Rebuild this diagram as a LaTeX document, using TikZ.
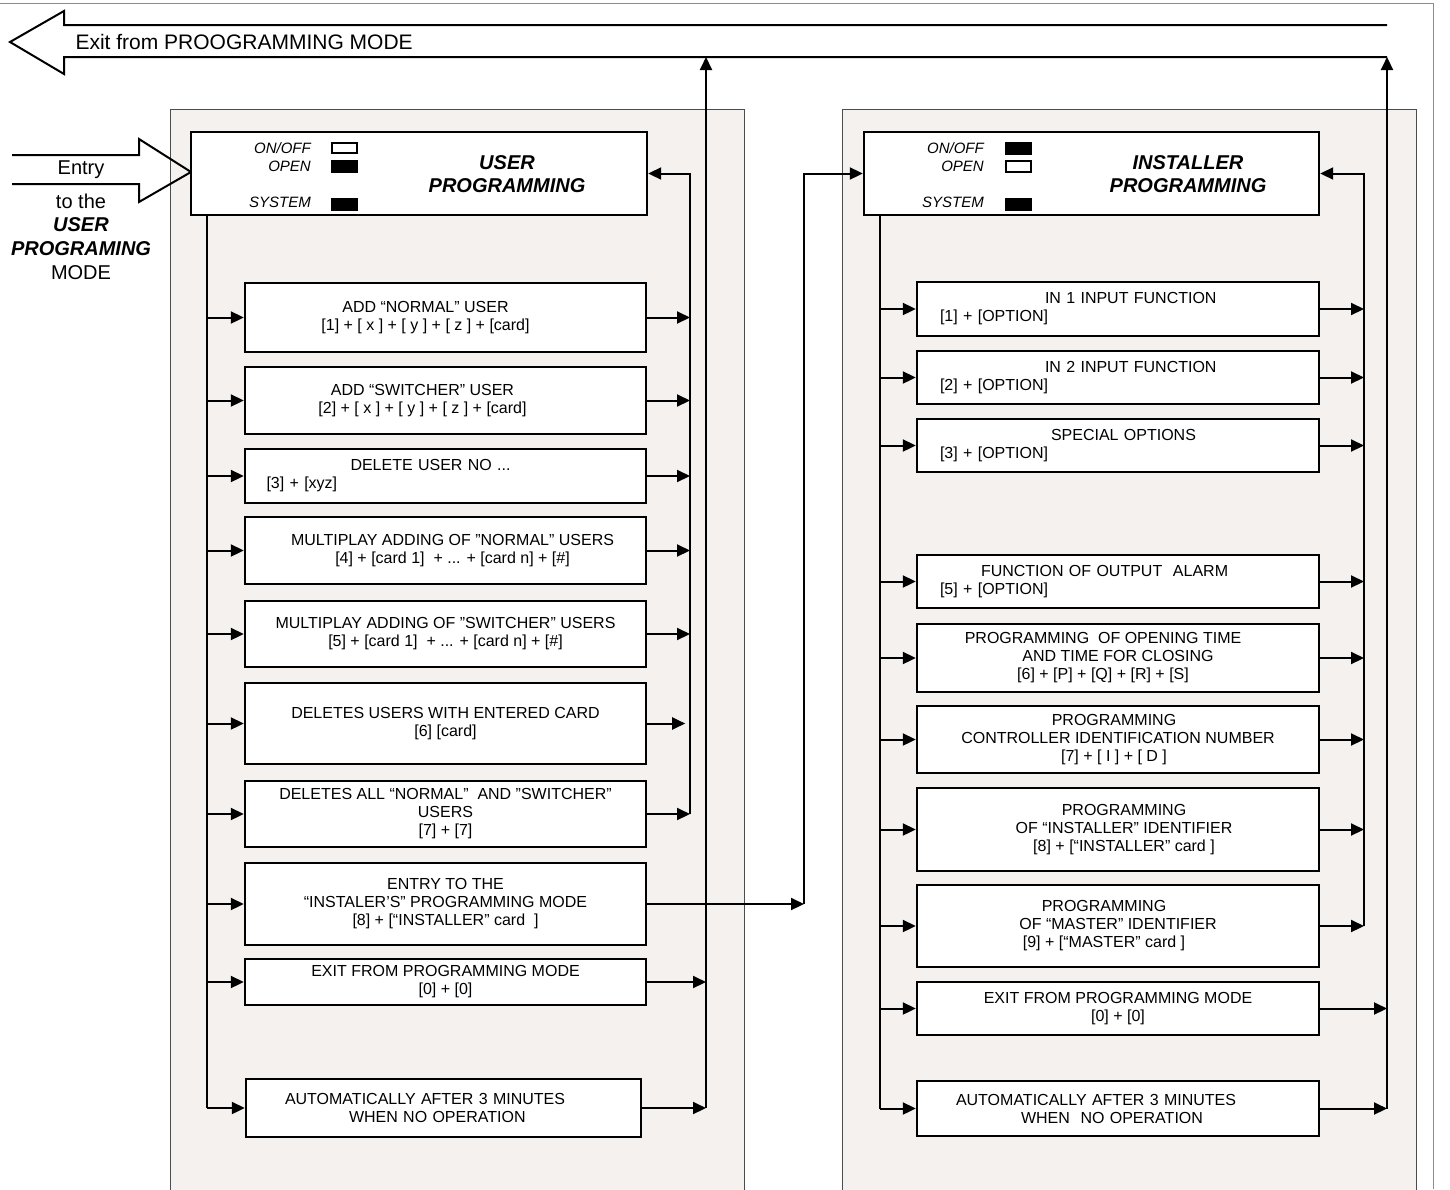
\documentclass[tikz,border=0pt]{standalone}
\usepackage{fontspec}
\setmainfont{Liberation Sans}
\usetikzlibrary{arrows.meta}
\definecolor{panelbg}{HTML}{F4F1EF}

\begin{document}
\begin{tikzpicture}[x=1pt, y=-1pt,
    conn/.style={line width=2pt, -{Triangle[length=13pt,width=12pt]}},
    wire/.style={line width=2pt},
    panel/.style={draw=black!70, line width=0.8pt, fill=panelbg},
    fnbox/.style={draw, line width=2.4pt, fill=white, align=center, inner sep=2pt,
        font=\fontsize{16}{18}\selectfont},
    lbox/.style={fnbox, minimum width=401pt},
    rbox/.style={fnbox, minimum width=402pt},
    headbox/.style={draw, line width=2.4pt, fill=white, minimum width=456pt, minimum height=83pt},
    lamp/.style={draw, line width=1.2pt},
    tag/.style={anchor=east, inner sep=0pt, font=\fontsize{15}{17}\selectfont\itshape},
    title/.style={align=center, font=\fontsize{20}{23}\selectfont\bfseries\itshape},
    bigarrow/.style={line width=2pt, line join=miter}]

    \useasboundingbox (0,0) rectangle (1450,1189);
    \clip (0,0) rectangle (1450,1189);

    \draw[black!45, line width=1pt] (0,3) -- (1433,3) -- (1433,1189);

    \draw[panel] (170,109) rectangle (744,1200);
    \draw[panel] (842,109) rectangle (1416,1200);

    \draw[bigarrow] (1387,25) -- (64,25) -- (64,11) -- (10,42) -- (64,74) -- (64,57) -- (1387,57);
    \node[anchor=west, font=\fontsize{21}{24}\selectfont] (exittxt) at (72,42) {Exit from PROOGRAMMING MODE};

    \draw[bigarrow] (12,155) -- (139,155) -- (139,139) -- (191,172) -- (139,202) -- (139,184) -- (12,184);
    \node[font=\fontsize{20}{23}\selectfont] (entrytxt) at (81,170) {Entry};
    \node[align=center, font=\fontsize{20}{23.7}\selectfont] (modetxt) at (81,236.5)
        {to the\\\textbf{\textit{USER}}\\\textbf{\textit{PROGRAMING}}\\MODE};

    \node[headbox] (ubox) at (419,173.5) {};
    \node[tag] (uonoff) at (311,148) {ON/OFF};
    \node[tag] (uopen) at (311,166) {OPEN};
    \node[tag] (usys) at (311,202) {SYSTEM};
    \draw[lamp] (332,143) rectangle (357,153);
    \draw[lamp, fill=black] (332,161) rectangle (357,172);
    \draw[lamp, fill=black] (332,199) rectangle (357,210);
    \node[title] (utitle) at (507,174.5) {USER\\PROGRAMMING};

    \node[headbox, minimum width=455pt] (ibox) at (1091.5,173.5) {};
    \node[tag] (ionoff) at (984,148) {ON/OFF};
    \node[tag] (iopen) at (984,166) {OPEN};
    \node[tag] (isys) at (984,202) {SYSTEM};
    \draw[lamp, fill=black] (1006,143) rectangle (1031,154);
    \draw[lamp] (1006,161) rectangle (1031,172);
    \draw[lamp, fill=black] (1006,199) rectangle (1031,210);
    \node[title] (ititle) at (1188,174.5) {INSTALLER\\PROGRAMMING};

    \node[lbox, minimum height=69pt] (u1) at (445.5,317.5)
        {ADD “NORMAL” USER\hspace*{40pt}\\{}[1] + [ x ] + [ y ] + [ z ] + [card]\hspace*{40pt}};
    \node[lbox, minimum height=67pt] (u2) at (445.5,400.5)
        {ADD “SWITCHER” USER\hspace*{46pt}\\{}[2] + [ x ] + [ y ] + [ z ] + [card]\hspace*{46pt}};
    \node[lbox, minimum height=54pt, align=left, text width=358pt] (u3) at (445.5,476)
        {\hspace*{84pt}DELETE USER NO ...\\{}[3] + [xyz]};
    \node[lbox, minimum height=67pt] (u4) at (445.5,550.5)
        {\hspace*{14pt}MULTIPLAY ADDING OF ”NORMAL” USERS\\\hspace*{14pt}[4] + [card 1]\ \ + ... + [card n] + [\#]};
    \node[lbox, minimum height=66pt] (u5) at (445.5,634) {MULTIPLAY ADDING OF ”SWITCHER” USERS\\{}[5] + [card 1]\ \ + ... + [card n] + [\#]};
    \node[lbox, minimum height=81pt] (u6) at (445.5,723.5) {DELETES USERS WITH ENTERED CARD\\{}[6] [card]};
    \node[lbox, minimum height=66pt] (u7) at (445.5,814) {DELETES ALL “NORMAL”\ \ AND ”SWITCHER”\\USERS\\{}[7] + [7]};
    \node[lbox, minimum height=82pt] (u8) at (445.5,904) {ENTRY TO THE\\“INSTALER’S” PROGRAMMING MODE\\{}[8] + [“INSTALLER” card\ \ ]};
    \node[lbox, minimum height=46pt] (u9) at (445.5,982) {EXIT FROM PROGRAMMING MODE\\{}[0] + [0]};
    \node[fnbox, minimum width=395pt, minimum height=58pt, align=left, text width=317pt] (u10) at (443.5,1108)
        {AUTOMATICALLY AFTER 3 MINUTES\\\hspace*{64pt}WHEN NO OPERATION};

    \node[rbox, minimum height=54pt, align=left, text width=356pt] (i1) at (1118,309)
        {\hspace*{105pt}IN 1 INPUT FUNCTION\\{}[1] + [OPTION]};
    \node[rbox, minimum height=53pt, align=left, text width=356pt] (i2) at (1118,377.5)
        {\hspace*{105pt}IN 2 INPUT FUNCTION\\{}[2] + [OPTION]};
    \node[rbox, minimum height=53pt, align=left, text width=356pt] (i3) at (1118,445.5)
        {\hspace*{111pt}SPECIAL OPTIONS\\{}[3] + [OPTION]};
    \node[rbox, minimum height=53pt, align=left, text width=356pt] (i4) at (1118,581.5)
        {\hspace*{41pt}FUNCTION OF OUTPUT\ \ ALARM\\{}[5] + [OPTION]};
    \node[rbox, minimum height=68pt] (i5) at (1118,658)
        {PROGRAMMING\ \ OF OPENING TIME\hspace*{30pt}\\AND TIME FOR CLOSING\hspace*{30pt}\\{}[6] + [P] + [Q] + [R] + [S]\hspace*{30pt}};
    \node[rbox, minimum height=67pt] (i6) at (1118,739.5)
        {PROGRAMMING\hspace*{8pt}\\CONTROLLER IDENTIFICATION NUMBER\hspace*{8pt}\\{}[7] + [ I ] + [ D ]\hspace*{8pt}};
    \node[rbox, minimum height=83pt] (i7) at (1118,829.5)
        {\hspace*{12pt}PROGRAMMING\\\hspace*{12pt}OF “INSTALLER” IDENTIFIER\\\hspace*{12pt}[8] + [“INSTALLER” card ]};
    \node[rbox, minimum height=82pt] (i8) at (1118,926)
        {PROGRAMMING\hspace*{28pt}\\OF “MASTER” IDENTIFIER\hspace*{28pt}\\{}[9] + [“MASTER” card ]\hspace*{28pt}};
    \node[rbox, minimum height=53pt] (i9) at (1118,1008.5) {EXIT FROM PROGRAMMING MODE\\{}[0] + [0]};
    \node[fnbox, minimum width=402pt, minimum height=55pt, align=left, text width=324pt] (i10) at (1118,1108.5)
        {AUTOMATICALLY AFTER 3 MINUTES\\\hspace*{65pt}WHEN\ \ NO OPERATION};

    \coordinate (ut) at (207,0);
    \coordinate (ucol) at (690,0);
    \coordinate (uexit) at (706,0);
    \coordinate (ilink) at (804,0);
    \coordinate (it) at (880,0);
    \coordinate (icol) at (1364,0);
    \coordinate (iexit) at (1387,0);
    \coordinate (shaft) at (0,57);

    \draw[wire] (ubox.south -| ut) -- (u10.west -| ut);
    \foreach \n in {1,...,10}
    {
        \draw[conn] (u\n.west -| ut) -- (u\n.west);
    }
    \foreach \n in {1,...,5,7}
    {
        \draw[conn] (u\n.east) -- (u\n.east -| ucol);
    }
    \draw[conn] (u6.east) -- ++(38,0);
    \draw[conn] (u7.east -| ucol) |- (ubox.east);
    \foreach \n in {9,10}
    {
        \draw[conn] (u\n.east) -- (u\n.east -| uexit);
    }
    \draw[conn] (u10.east -| uexit) -- (uexit |- shaft);
    \draw[conn] (u8.east) -- (u8.east -| ilink);
    \draw[conn] (u8.east -| ilink) |- (ibox.west);

    \draw[wire] (ibox.south -| it) -- (i10.west -| it);
    \foreach \n in {1,...,10}
    {
        \draw[conn] (i\n.west -| it) -- (i\n.west);
    }
    \foreach \n in {1,...,8}
    {
        \draw[conn] (i\n.east) -- (i\n.east -| icol);
    }
    \draw[conn] (i8.east -| icol) |- (ibox.east);
    \foreach \n in {9,10}
    {
        \draw[conn] (i\n.east) -- (i\n.east -| iexit);
    }
    \draw[conn] (i10.east -| iexit) -- (iexit |- shaft);
\end{tikzpicture}
\end{document}
